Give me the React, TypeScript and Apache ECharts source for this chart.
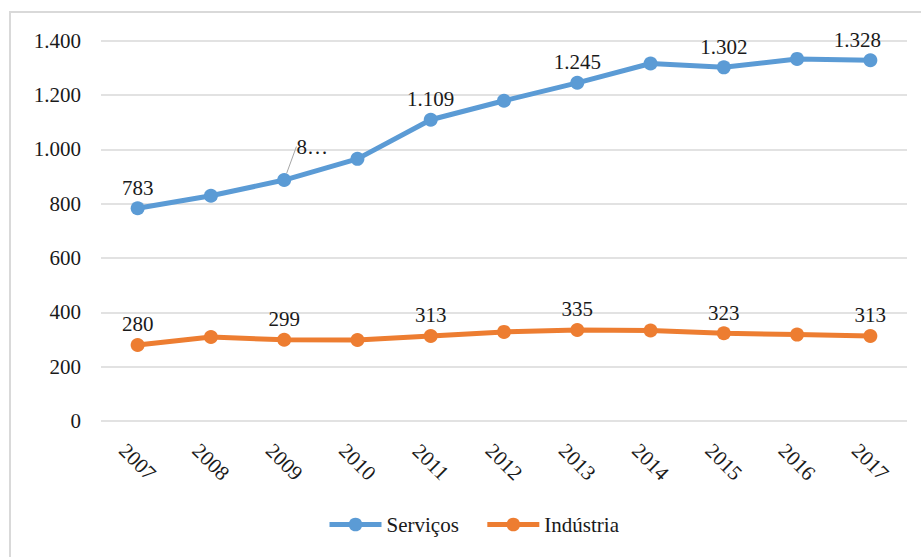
import React, { useEffect, useRef } from "react";
import * as echarts from "echarts";

const categories = ["2007", "2008", "2009", "2010", "2011", "2012", "2013", "2014", "2015", "2016", "2017"];
const servicos = [783, 829, 887, 965, 1109, 1179, 1245, 1316, 1302, 1333, 1328];
const industria = [280, 309, 299, 298, 313, 328, 335, 333, 323, 318, 313];
const labeledIdx = [0, 2, 4, 6, 8, 10];
const yTicks = { min: 0, max: 1400, interval: 200 };

const FONT = '"Times New Roman", "Liberation Serif", "DejaVu Serif", serif';
const TXT = "#1a1a1a";

const fmt = (v: number) => String(Math.round(v)).replace(/\B(?=(\d{3})+(?!\d))/g, ".");

export default function App() {
  const ref = useRef<HTMLDivElement>(null);
  useEffect(() => {
    if (!ref.current) return;
    const chart = echarts.init(ref.current, null, { renderer: "svg" });

    const mkData = (vals: number[], isServ: boolean) =>
      vals.map((v, i) => {
        const show = labeledIdx.includes(i);
        const item: any = {
          value: v,
          label: {
            show,
            position: "top",
            distance: 3,
            formatter: (p: any) => fmt(p.value),
            fontFamily: FONT,
            fontSize: 21,
            color: TXT,
          },
        };
        if (isServ && i === 2) {
          item.label.formatter = "8…";
          item.labelLine = { show: true, lineStyle: { color: "#a6a6a6", width: 1 } };
        }
        return item;
      });

    chart.setOption({
      animation: false,
      backgroundColor: "#ffffff",
      textStyle: { fontFamily: FONT },
      graphic: [
        {
          type: "rect",
          silent: true,
          shape: { x: 10, y: 12, width: 1000, height: 700 },
          style: { fill: "none", stroke: "#d9d9d9", lineWidth: 2 },
        },
      ],
      grid: { left: 101, right: 14, top: 40.7, bottom: 136, containLabel: false, outerBoundsMode: "none" },
      legend: {
        left: 322,
        top: 509,
        itemWidth: 52,
        itemHeight: 17,
        itemGap: 26,
        lineStyle: { width: 5 },
        textStyle: { fontFamily: FONT, fontSize: 21, color: TXT },
        data: ["Serviços", "Indústria"],
      },
      xAxis: {
        type: "category",
        data: categories,
        boundaryGap: true,
        axisLine: { show: false },
        axisTick: { show: false },
        axisLabel: {
          rotate: -45,
          align: "center",
          verticalAlign: "middle",
          margin: 41,
          interval: 0,
          fontFamily: FONT,
          fontSize: 21,
          color: TXT,
        },
      },
      yAxis: {
        type: "value",
        min: yTicks.min,
        max: yTicks.max,
        interval: yTicks.interval,
        axisLine: { show: false },
        axisTick: { show: false },
        splitLine: { lineStyle: { color: "#d9d9d9", width: 1.5 } },
        axisLabel: {
          margin: 20,
          formatter: (v: number) => fmt(v),
          fontFamily: FONT,
          fontSize: 21,
          color: TXT,
        },
      },
      series: [
        {
          name: "Serviços",
          type: "line",
          data: mkData(servicos, true),
          symbol: "circle",
          symbolSize: 14,
          lineStyle: { color: "#5b9bd5", width: 5 },
          itemStyle: { color: "#5b9bd5" },
          labelLayout: (p: any) =>
            p.dataIndex === 2 ? { dx: 28, dy: -13 } : p.dataIndex === 10 ? { dx: -13 } : {},
        },
        {
          name: "Indústria",
          type: "line",
          data: mkData(industria, false),
          symbol: "circle",
          symbolSize: 14,
          lineStyle: { color: "#ed7d31", width: 5 },
          itemStyle: { color: "#ed7d31" },
        },
      ],
    });
    return () => chart.dispose();
  }, []);
  return <div ref={ref} style={{ position: "absolute", left: 0, top: 0, width: 921, height: 557 }} />;
}
